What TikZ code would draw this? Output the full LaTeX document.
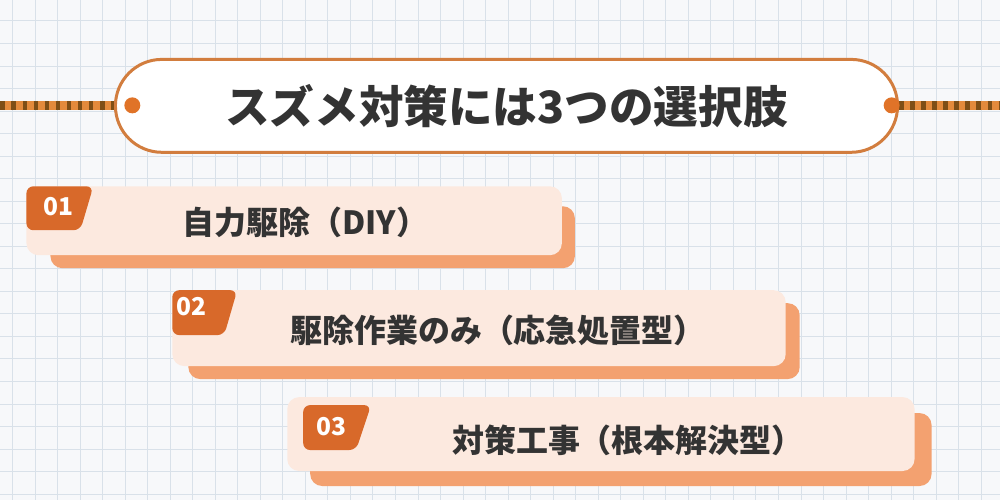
\documentclass[tikz,border=0pt]{standalone}
\usepackage{fontspec}
\newfontfamily\cjk{Noto Sans CJK JP}
\definecolor{paper}{HTML}{F7F8FA}
\definecolor{gridcol}{HTML}{D9E1E9}
\definecolor{pillline}{HTML}{D27D3E}
\definecolor{ropeorange}{HTML}{E38A3C}
\definecolor{ropebrown}{HTML}{7E4E16}
\definecolor{dotcol}{HTML}{E07328}
\definecolor{cardlight}{HTML}{FCE9DF}
\definecolor{cardshadow}{HTML}{F3A170}
\definecolor{tagcol}{HTML}{D8692A}
\definecolor{ink}{HTML}{333333}

\begin{document}
\begin{tikzpicture}[x=0.02cm, y=-0.02cm,
  gridline/.style={draw=gridcol, line width=0.5pt},
  rope/.style={line width=0.18cm, draw=ropeorange,
    postaction={draw=ropebrown, line width=0.18cm, dash pattern=on 2.6pt off 3.7pt}},
  pill/.style={draw=pillline, line width=0.06cm, fill=white, rounded corners=0.93cm,
    minimum width=15.66cm, minimum height=1.86cm, inner sep=0pt,
    font=\cjk\bfseries\fontsize{25.4}{30}\selectfont, text=ink},
  dot/.style={circle, fill=dotcol, minimum size=0.32cm, inner sep=0pt},
  card/.style={fill=cardlight, rounded corners=0.24cm, inner sep=0pt},
  cardback/.style={fill=cardshadow, rounded corners=0.24cm, inner sep=0pt},
  cardtext/.style={font=\cjk\bfseries\fontsize{18.2}{22}\selectfont, text=ink, inner sep=0pt},
  tag/.style={fill=tagcol, rounded corners=0.14cm},
  tagnum/.style={font=\cjk\bfseries\fontsize{14}{16}\selectfont, text=white, inner sep=0pt}]

  % paper and grid
  \fill[paper] (0,0) rectangle (1000,500);
  \foreach \gx in {0,...,43}
    \draw[gridline] ({12+22.55*\gx},0) -- ({12+22.55*\gx},500);
  \foreach \gy in {0,...,21}
    \draw[gridline] (0,{20.5+22.55*\gy}) -- (1000,{20.5+22.55*\gy});
  \useasboundingbox (0,0) rectangle (1000,500);

  % title with ropes
  \coordinate (ropeL) at (0,105.5);
  \coordinate (ropeR) at (1000,105.5);
  \node[pill] (title) at (506.5,105.5) {スズメ対策には3つの選択肢};
  \draw[rope] (ropeL) -- (title.west);
  \draw[rope] (title.east) -- (ropeR);
  \node[dot] (dotL) at (132,105) {};
  \node[dot] (dotR) at (892,105) {};

  % option 1
  \node[cardback, minimum width=10.5cm, minimum height=1.24cm] (back1) at (312.5,237) {};
  \node[card, minimum width=10.72cm, minimum height=1.38cm] (card1) at (294,220.5) {};
  \fill[tag] (93,186) -- (80,230) -- (26,230) -- (26,186) -- cycle;
  \node[tagnum] (num1) at (58,206) {01};
  \node[cardtext] (opt1) at (305,222) {自力駆除（DIY）};

  % option 2
  \node[cardback, minimum width=12.24cm, minimum height=1.52cm] (back2) at (494,341) {};
  \node[card, minimum width=12.28cm, minimum height=1.52cm] (card2) at (479,328) {};
  \fill[tag] (237,290) -- (224,335) -- (172,335) -- (172,290) -- cycle;
  \node[tagnum] (num2) at (191,306) {02};
  \node[cardtext] (opt2) at (498,330) {駆除作業のみ（応急処置型）};

  % option 3
  \node[cardback, minimum width=12.44cm, minimum height=1.46cm] (back3) at (621,449.5) {};
  \node[card, minimum width=12.56cm, minimum height=1.48cm] (card3) at (601,434) {};
  \fill[tag] (371,405) -- (356,450) -- (303,450) -- (303,405) -- cycle;
  \node[tagnum] (num3) at (331,427) {03};
  \node[cardtext] (opt3) at (628,440) {対策工事（根本解決型）};
\end{tikzpicture}
\end{document}
